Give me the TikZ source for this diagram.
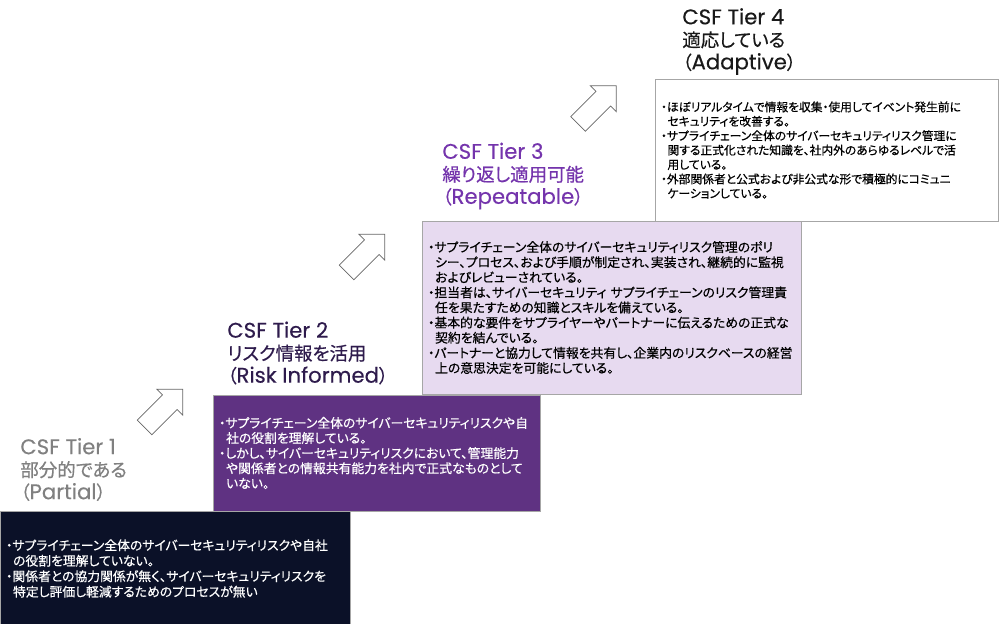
\documentclass[tikz,border=0pt]{standalone}
\usepackage{fontspec}
\usetikzlibrary{shapes.arrows}
\newfontfamily\jp{Noto Sans CJK JP}[RawFeature=+palt,FakeBold=0.5]
\newfontfamily\lat{Poppins}[Scale=1.15,FakeBold=0.3]
\definecolor{navy}{HTML}{0B1128}
\definecolor{deeppurple}{HTML}{5F3282}
\definecolor{lavender}{HTML}{E7DAF0}
\definecolor{titletwo}{HTML}{2E1B4C}
\definecolor{titlethree}{HTML}{7434AC}
\newcommand{\bl}{\makebox[0.5em][c]{・}}
\newcommand{\indt}{\hspace*{0.55em}}

\begin{document}
\begin{tikzpicture}[x=0.02cm,y=-0.02cm,
  tierbox/.style={draw=gray!70,inner xsep=0.12cm,inner ysep=0pt,align=left,font=\jp\fontsize{7.3}{8.6}\selectfont},
  tiertitle/.style={anchor=west,align=left,inner sep=0pt,font=\jp\fontsize{10.5}{12.8}\selectfont},
  blockarrow/.style={single arrow,draw=gray!80!black,fill=white,inner sep=0pt,text height=0.4cm,text depth=0pt,minimum height=1.08cm,single arrow head extend=0.16cm,rotate=45}]
  \useasboundingbox (0,0) rectangle (1000,623);

  \node[tierbox,fill=white,minimum width=6.86cm,minimum height=2.84cm,text width=6.62cm,font=\jp\fontsize{6.7}{8.2}\selectfont] (adaptive) at (826.5,150)
    {\bl ほぼリアルタイムで情報を収集・使用してイベント発生前に\\
     \indt セキュリティを改善する。\\
     \bl サプライチェーン全体のサイバーセキュリティリスク管理に\\
     \indt 関する正式化された知識を、社内外のあらゆるレベルで活\\
     \indt 用している。\\
     \bl 外部関係者と公式および非公式な形で積極的にコミュニ\\
     \indt ケーションしている。};
  \node[tierbox,fill=lavender,minimum width=7.58cm,minimum height=3.46cm,text width=7.34cm] (repeatable) at (611.5,307.5)
    {\bl サプライチェーン全体のサイバーセキュリティリスク管理のポリ\\
     \indt シー、プロセス、および手順が制定され、実装され、継続的に監視\\
     \indt およびレビューされている。\\
     \bl 担当者は、サイバーセキュリティ サプライチェーンのリスク管理責\\
     \indt 任を果たすための知識とスキルを備えている。\\
     \bl 基本的な要件をサプライヤーやパートナーに伝えるための正式な\\
     \indt 契約を結んでいる。\\
     \bl パートナーと協力して情報を共有し、企業内のリスクベースの経営\\
     \indt 上の意思決定を可能にしている。};
  \node[tierbox,fill=deeppurple,text=white,minimum width=6.54cm,minimum height=2.32cm,text width=6.3cm] (informed) at (376.5,453)
    {\bl サプライチェーン全体のサイバーセキュリティリスクや自\\
     \indt 社の役割を理解している。\\
     \bl しかし、サイバーセキュリティリスクにおいて、管理能力\\
     \indt や関係者との情報共有能力を社内で正式なものとして\\
     \indt いない。};
  \node[tierbox,fill=navy,text=white,minimum width=7cm,minimum height=2.3cm,text width=6.76cm,font=\jp\fontsize{7.3}{8.8}\selectfont] (partial) at (175,568.5)
    {\bl サプライチェーン全体のサイバーセキュリティリスクや自社\\
     \indt の役割を理解していない。\\
     \bl 関係者との協力関係が無く、サイバーセキュリティリスクを\\
     \indt 特定し評価し軽減するためのプロセスが無い};

  \node[tiertitle,text=gray] (partialtitle) at (20,469.5) {{\lat CSF Tier 1}\\部分的である\\（{\lat Partial}）};
  \node[tiertitle,text=titletwo] (informedtitle) at (227,353) {{\lat CSF Tier 2}\\リスク情報を活用\\（{\lat Risk Informed}）};
  \node[tiertitle,text=titlethree] (repeatabletitle) at (442,176) {{\lat CSF Tier 3}\\繰り返し適用可能\\（{\lat Repeatable}）};
  \node[tiertitle,text=black!90] (adaptivetitle) at (682,41.5) {{\lat CSF Tier 4}\\適応している\\（{\lat Adaptive}）};

  \node[blockarrow] (up1) at (160,412) {};
  \node[blockarrow] (up2) at (362,257) {};
  \node[blockarrow] (up3) at (593.5,108.5) {};
\end{tikzpicture}
\end{document}
